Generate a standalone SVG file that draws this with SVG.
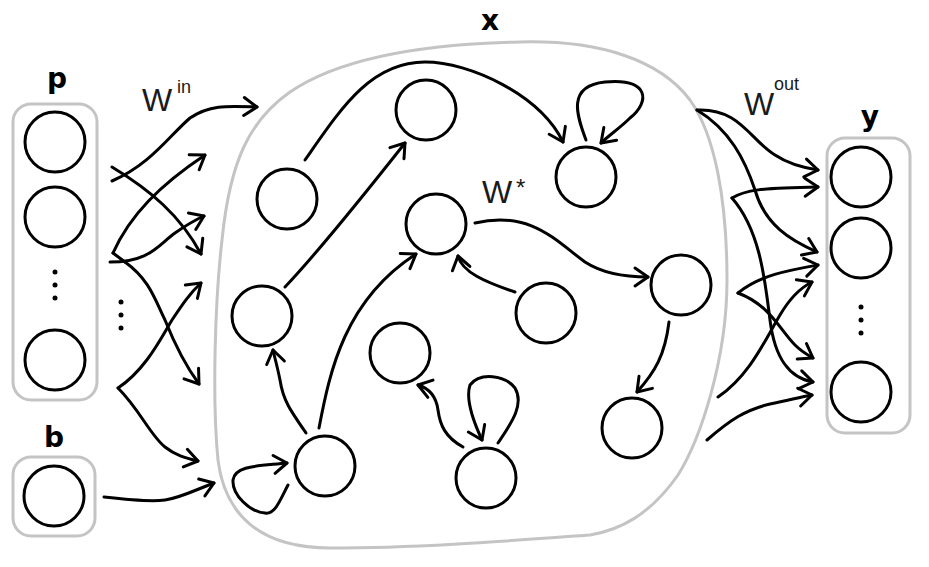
<svg xmlns="http://www.w3.org/2000/svg" width="929" height="567" viewBox="0 0 929 567">
<style>
.panel{fill:none;stroke:#c4c4c4;stroke-width:3}
.node{fill:#fff;stroke:#000;stroke-width:3}
.edge{fill:none;stroke:#000;stroke-width:3;stroke-linecap:round;marker-end:url(#ah)}
.line{fill:none;stroke:#000;stroke-width:3;stroke-linecap:round}
.lbl{font-family:"DejaVu Sans","Liberation Sans",sans-serif;font-weight:bold;font-size:28px;fill:#000;text-anchor:middle}
.w{font-family:"Liberation Sans",Arial,sans-serif;font-size:32px;fill:#1a1a1a}
.sup{font-family:"Liberation Sans",Arial,sans-serif;font-size:18px;fill:#1a1a1a}
.star{font-family:"Liberation Sans",Arial,sans-serif;font-size:24px;fill:#1a1a1a}
.dot{fill:#000}
</style>
<defs>
<marker id="ah" markerUnits="userSpaceOnUse" viewBox="-16 -12 20 24" refX="0" refY="0" markerWidth="20" markerHeight="24" orient="auto" overflow="visible">
<path d="M-13,-9 L0,0 L-13,9" fill="none" stroke="#000" stroke-width="3" stroke-linecap="round" stroke-linejoin="round"/>
</marker>
</defs>
<rect width="929" height="567" fill="#fff"/>

<g id="panel-p">
<rect class="panel" x="13" y="104" width="84" height="296" rx="18"/>
<text class="lbl" x="57" y="88">p</text>
<circle class="node" cx="55" cy="142" r="30"/>
<circle class="node" cx="55" cy="217" r="30"/>
<circle class="dot" cx="55" cy="272" r="2.5"/>
<circle class="dot" cx="55" cy="285" r="2.5"/>
<circle class="dot" cx="55" cy="298" r="2.5"/>
<circle class="node" cx="55" cy="360" r="30"/>
</g>
<g id="panel-b">
<rect class="panel" x="13" y="457" width="82" height="79" rx="18"/>
<text class="lbl" x="54" y="447">b</text>
<circle class="node" cx="54" cy="496" r="30"/>
</g>
<g id="panel-y">
<rect class="panel" x="827" y="138" width="83" height="295" rx="18"/>
<text class="lbl" x="870" y="126">y</text>
<circle class="node" cx="861" cy="177" r="30"/>
<circle class="node" cx="861" cy="248" r="30"/>
<circle class="dot" cx="861" cy="307" r="2.5"/>
<circle class="dot" cx="861" cy="320" r="2.5"/>
<circle class="dot" cx="861" cy="333" r="2.5"/>
<circle class="node" cx="861" cy="392" r="30"/>
</g>
<g id="reservoir">
<path class="panel" d="M520,42 C600,40 660,60 690,100 C715,135 727,200 727,280 C727,360 700,440 678,475 C650,515 620,530 590,535 C520,540 420,548 330,548 C260,548 225,515 218,460 C212,400 215,300 222,240 C230,160 250,120 290,92 C340,58 420,44 520,42 Z"/>
<text class="lbl" x="490" y="30">x</text>
</g>

<g id="labels">
<text class="w" x="142" y="111">W</text><text class="sup" x="177" y="93">in</text>
<text class="w" x="744" y="115">W</text><text class="sup" x="774" y="90">out</text>
<text class="w" x="482" y="203">W</text><text class="star" x="516" y="196">*</text>
<circle class="dot" cx="121" cy="302" r="2.5"/>
<circle class="dot" cx="121" cy="315" r="2.5"/>
<circle class="dot" cx="121" cy="328" r="2.5"/>
</g>

<g id="n-A"><circle class="node" cx="287" cy="199" r="30"/></g>
<g id="n-B"><circle class="node" cx="426" cy="110" r="30"/></g>
<g id="n-C"><circle class="node" cx="436" cy="224" r="30"/></g>
<g id="n-D"><circle class="node" cx="586" cy="177" r="30"/></g>
<g id="n-E"><circle class="node" cx="681" cy="285" r="30"/></g>
<g id="n-F"><circle class="node" cx="546" cy="313" r="30"/></g>
<g id="n-G"><circle class="node" cx="262" cy="316" r="30"/></g>
<g id="n-H"><circle class="node" cx="400" cy="353" r="30"/></g>
<g id="n-I"><circle class="node" cx="325" cy="466" r="30"/></g>
<g id="n-J"><circle class="node" cx="486" cy="478" r="30"/></g>
<g id="n-K"><circle class="node" cx="632" cy="428" r="30"/></g>

<g id="connectors">
<!-- input weights -->
<path class="edge" d="M112,181 C150,165 170,135 190,118 C210,104 230,106 257,107"/>
<path class="edge" d="M112,167 C150,190 180,215 201,254"/>
<path class="edge" d="M113,253 C130,215 160,185 205,155"/>
<path class="edge" d="M110,262 C150,262 158,245 175,233 C185,226 195,220 204,216"/>
<path class="line" d="M113,253 L125,262"/>
<path class="edge" d="M125,262 C150,280 155,300 165,320 C175,345 185,365 199,384"/>
<path class="edge" d="M118,388 C145,370 160,340 172,320 C182,305 190,293 201,283"/>
<path class="edge" d="M118,388 C140,410 150,435 165,447 C175,455 185,458 198,461"/>
<path class="edge" d="M104,497 C130,500 150,502 165,500 C180,498 195,490 214,483"/>
<!-- recurrent weights -->
<path class="edge" d="M305,160 C340,110 370,62 425,62 C470,62 540,95 563,142"/>
<path class="edge" d="M285,287 C320,250 360,200 405,143"/>
<path class="edge" d="M319,428 C330,370 345,300 416,254"/>
<path class="edge" d="M515,292 C485,282 462,272 458,256"/>
<path class="edge" d="M475,223 C530,210 555,240 585,262 C605,275 630,277 648,277"/>
<path class="edge" d="M586,140 C578,118 565,86 605,82 C650,78 650,102 630,118 C620,128 608,136 601,143"/>
<path class="edge" d="M669,322 C665,355 655,372 637,392"/>
<path class="edge" d="M306,433 C290,410 283,400 280,380 C277,365 274,355 273,350"/>
<path class="edge" d="M288,485 C280,500 275,515 265,513 C250,512 232,495 233,480 C235,465 260,466 287,463"/>
<path class="edge" d="M463,447 C445,437 440,425 438,410 C436,395 428,388 418,385"/>
<path class="edge" d="M498,443 C510,425 525,405 515,388 C505,375 480,372 470,385 C465,400 475,425 482,440"/>
<!-- output weights -->
<path class="edge" d="M697,110 C740,108 750,140 775,155 C790,165 805,168 818,170"/>
<path class="edge" d="M697,110 C730,130 745,160 755,190 C765,225 790,240 817,252"/>
<path class="edge" d="M732,198 C745,190 760,188 818,187"/>
<path class="edge" d="M732,198 C760,230 765,280 770,320 C775,360 790,378 813,382"/>
<path class="edge" d="M738,293 C760,275 790,270 818,265"/>
<path class="edge" d="M738,293 C770,305 780,330 795,345 C802,352 808,355 813,358"/>
<path class="edge" d="M718,397 C750,375 765,340 780,315 C790,298 800,288 812,282"/>
<path class="edge" d="M707,440 C730,420 745,410 770,404 C790,400 800,397 812,395"/>
</g>
</svg>
